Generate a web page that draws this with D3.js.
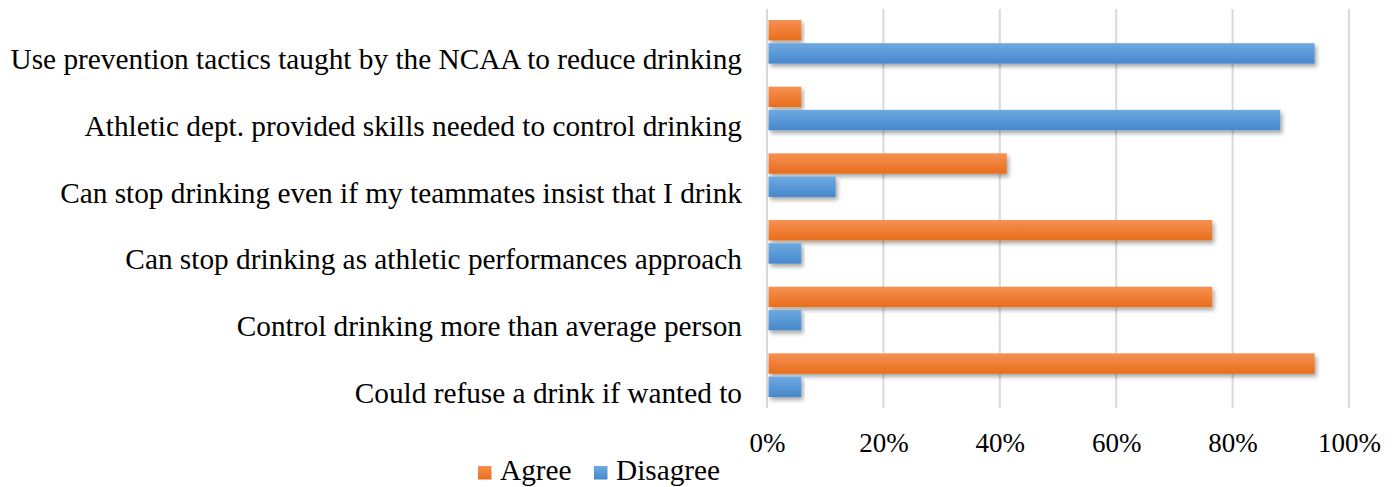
<!DOCTYPE html>
<html>
<head>
<meta charset="utf-8">
<script src="https://cdn.jsdelivr.net/npm/d3@7"></script>
<style>
  body { margin: 0; background: #fff; }
  text { font-family: "Liberation Serif", "Times New Roman", serif; fill: #000; }
</style>
</head>
<body>
<div id="chart"></div>
<script>
const categories = [
  'Use prevention tactics taught by the NCAA to reduce drinking',
  'Athletic dept. provided skills needed to control drinking',
  'Can stop drinking even if my teammates insist that I drink',
  'Can stop drinking as athletic performances approach',
  'Control drinking more than average person',
  'Could refuse a drink if wanted to'
];
const seriesNames = ['Agree', 'Disagree'];
const agree = [5.9, 5.9, 41.2, 76.5, 76.5, 94.1];
const disagree = [94.1, 88.2, 11.8, 5.9, 5.9, 5.9];
const ticks = [0, 20, 40, 60, 80, 100];

const width = 1399, height = 487;
const margin = {left: 767, right: 50, top: 9, bottom: 79};

const rows = categories.map((c, i) => ({cat: c, Agree: agree[i], Disagree: disagree[i]}));

const svg = d3.select('#chart').append('svg')
  .attr('width', width)
  .attr('height', height);

const defs = svg.append('defs');
const grads = {Agree: ['#F59152', '#E86D1C'], Disagree: ['#6EA9E1', '#4688CC']};
Object.keys(grads).forEach(k => {
  const g = defs.append('linearGradient')
    .attr('id', 'grad-' + k)
    .attr('x1', 0).attr('y1', 0).attr('x2', 0).attr('y2', 1);
  g.append('stop').attr('offset', '0%').attr('stop-color', grads[k][0]);
  g.append('stop').attr('offset', '100%').attr('stop-color', grads[k][1]);
});
const shadow = defs.append('filter').attr('id', 'shadow')
  .attr('x', '-5%').attr('y', '-20%').attr('width', '115%').attr('height', '160%');
shadow.append('feDropShadow')
  .attr('dx', 2).attr('dy', 3).attr('stdDeviation', 2.2)
  .attr('flood-color', '#000').attr('flood-opacity', 0.35);

const x = d3.scaleLinear()
  .domain([0, 100])
  .range([margin.left, width - margin.right]);

const y = d3.scaleBand()
  .domain(categories)
  .range([margin.top, height - margin.bottom])
  .paddingInner(0.346)
  .paddingOuter(0.165);

const ySub = d3.scaleBand()
  .domain(seriesNames)
  .range([0, y.bandwidth()])
  .paddingInner(0.12);

// gridlines
svg.append('g')
  .selectAll('line')
  .data(ticks)
  .join('line')
    .attr('x1', d => x(d)).attr('x2', d => x(d))
    .attr('y1', margin.top).attr('y2', height - margin.bottom)
    .attr('stroke', '#d9d9d9')
    .attr('stroke-width', 2);

// bars
const groups = svg.append('g')
  .selectAll('g')
  .data(rows)
  .join('g')
    .attr('transform', d => `translate(0,${y(d.cat)})`);

groups.selectAll('rect')
  .data(d => seriesNames.map(s => ({key: s, value: d[s]})))
  .join('rect')
    .attr('x', x(0) + 1.5)
    .attr('y', d => ySub(d.key))
    .attr('width', d => x(d.value) - x(0) - 1.5)
    .attr('height', ySub.bandwidth())
    .attr('fill', d => `url(#grad-${d.key})`)
    .attr('filter', 'url(#shadow)');

// category labels
svg.append('g')
  .selectAll('text')
  .data(categories)
  .join('text')
    .attr('x', 742)
    .attr('y', d => y(d) + y.bandwidth() / 2 + 27.5)
    .attr('text-anchor', 'end')
    .attr('font-size', 29.3)
    .text(d => d);

// x axis labels
const xAxis = svg.append('g')
  .attr('transform', `translate(0,${height - margin.bottom})`)
  .call(d3.axisBottom(x).tickValues(ticks).tickFormat(d => d + '%').tickSize(0).tickPadding(25));
xAxis.select('.domain').remove();
xAxis.selectAll('text')
  .attr('font-size', 27)
  .attr('font-family', '"Liberation Serif", "Times New Roman", serif')
  .attr('fill', '#000');

// legend
const legend = svg.append('g').attr('transform', 'translate(478,480)');
const legendX = [0, 116];
seriesNames.forEach((s, i) => {
  const g = legend.append('g').attr('transform', `translate(${legendX[i]},0)`);
  g.append('rect')
    .attr('x', 0).attr('y', -14)
    .attr('width', 13.5).attr('height', 13.5)
    .attr('fill', `url(#grad-${s})`);
  g.append('text')
    .attr('x', 22).attr('y', 0)
    .attr('font-size', 29.3)
    .text(s);
});
</script>
</body>
</html>
